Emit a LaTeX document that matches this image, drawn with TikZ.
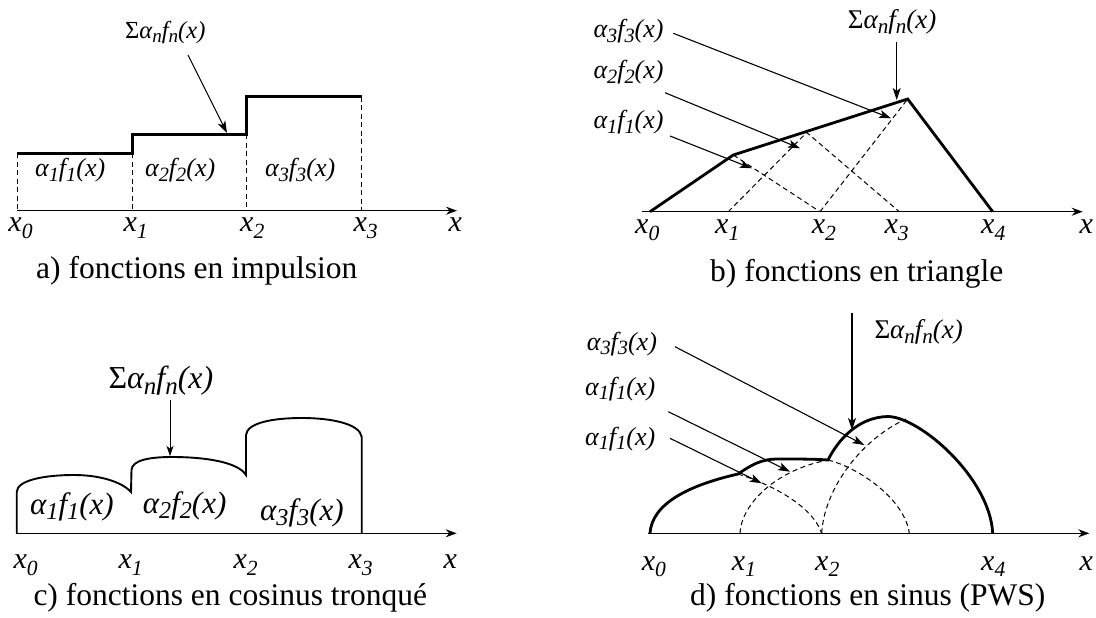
\documentclass[tikz,border=0pt]{standalone}
\usepackage{fontspec}
\setmainfont{Liberation Serif}
\usetikzlibrary{arrows.meta}
\newcommand\lo[1]{\raisebox{-0.4ex}{\scalebox{0.78}{#1}}}
\newcommand\af[1]{\textit{α\lo{#1}f\lo{#1}(x)}}
\newcommand\smlab{Σ\textit{α\lo{n}f\lo{n}(x)}}
\newcommand\xs[1]{\textit{x\raisebox{-0.5ex}{\scalebox{0.72}{#1}}}}
\begin{document}
\begin{tikzpicture}[x=1pt,y=-1pt,
  axisline/.style={line width=1.4pt,-{Stealth[length=11pt,width=8pt]}},
  sumline/.style={line width=2.8pt},
  sumthin/.style={line width=1.9pt},
  basisdash/.style={line width=1pt,dash pattern=on 5pt off 3.5pt},
  pointer/.style={line width=1.1pt,-{Stealth[length=12pt,width=8pt,inset=3pt]}},
  pointersm/.style={line width=0.9pt,-{Stealth[length=10pt,width=7pt,inset=2.5pt]}},
  lbl/.style={font=\fontsize{#1}{#1}\selectfont,anchor=base west,inner sep=0pt},
  tick/.style={font=\fontsize{30}{30}\selectfont,anchor=base west,inner sep=0pt},
  captxt/.style={font=\fontsize{31.5}{34}\selectfont,anchor=base west,inner sep=0pt}]
\useasboundingbox (0,0) rectangle (1096,618);

%================ a) impulsion
\coordinate (a0) at (17.3,210.7);
\coordinate (aend) at (457,210.7);
\draw[axisline] (a0) -- (aend);
\draw[sumline] (17.3,153.3) -- (132.3,153.3) -- (132.3,134.3) -- (246.7,134.3) -- (246.7,96.7) -- (361.7,96.7);
\draw[basisdash] (17.3,153.3) -- (17.3,210.7);
\draw[basisdash] (132.3,153.3) -- (132.3,210.7);
\draw[basisdash] (246.7,134.3) -- (246.7,210.7);
\draw[basisdash] (361.7,96.7) -- (361.7,210.7);
\node[lbl=26] (aL1) at (35,176.7) {\af{1}};
\node[lbl=26] (aL2) at (145,176.7) {\af{2}};
\node[lbl=26] (aL3) at (265,176.7) {\af{3}};
\node[lbl=24.5] (aS) at (125,38.3) {\smlab};
\coordinate (aSs) at (188,55);
\coordinate (aSt) at (227,133);
\draw[pointer] (aSs) -- (aSt);
\node[tick] (ax0) at (8.3,231.7) {\xs{0}};
\node[tick] (ax1) at (123.3,231.7) {\xs{1}};
\node[tick] (ax2) at (240,231.7) {\xs{2}};
\node[tick] (ax3) at (353.3,231.7) {\xs{3}};
\node[tick] (axx) at (448.3,231.7) {\textit{x}};
\node[captxt] (acap) at (36,278.3) {a) fonctions en impulsion};

%================ b) triangle
\coordinate (b0) at (641.7,211.7);
\coordinate (bend) at (1082.7,211.7);
\draw[axisline] (b0) -- (bend);
\coordinate (bx0) at (650,211.7);
\coordinate (bx1) at (728.3,211.7);
\coordinate (bx2) at (820,211.7);
\coordinate (bx3) at (899.3,211.7);
\coordinate (bx4) at (992.7,211.7);
\coordinate (bK1) at (733.3,155);
\coordinate (bP2) at (806.7,132.5);
\coordinate (bP3) at (907.7,99);
\draw[basisdash] (bK1) -- (bx2);
\draw[basisdash] (bx1) -- (bP2) -- (bx3);
\draw[basisdash] (bx2) -- (bP3);
\draw[sumline,line join=miter] (bx0) -- (bK1) -- (bP3) -- (bx4);
\node[lbl=26] (bL3) at (593.3,37.3) {\af{3}};
\node[lbl=26] (bL2) at (593.3,78.3) {\af{2}};
\node[lbl=26] (bL1) at (593.3,128.3) {\af{1}};
\node[lbl=27] (bS) at (847.7,28.3) {\smlab};
\coordinate (bA3s) at (673.3,33.3);
\coordinate (bA3t) at (891,118.3);
\coordinate (bA2s) at (665,92.7);
\coordinate (bA2t) at (800,148.3);
\coordinate (bA1s) at (670,136);
\coordinate (bA1t) at (751.7,168.3);
\coordinate (bSs) at (896.7,41.7);
\coordinate (bSt) at (896.7,100);
\draw[pointer] (bA3s) -- (bA3t);
\draw[pointer] (bA2s) -- (bA2t);
\draw[pointer] (bA1s) -- (bA1t);
\draw[pointer] (bSs) -- (bSt);
\node[tick] (btx0) at (635,233.3) {\xs{0}};
\node[tick] (btx1) at (715,233.3) {\xs{1}};
\node[tick] (btx2) at (811.7,233.3) {\xs{2}};
\node[tick] (btx3) at (884.3,233.3) {\xs{3}};
\node[tick] (btx4) at (981,233.3) {\xs{4}};
\node[tick] (btxx) at (1079.3,233.3) {\textit{x}};
\node[captxt] (bcap) at (710,281.7) {b) fonctions en triangle};

%================ c) cosinus tronque
\coordinate (c0) at (16,533.3);
\coordinate (cend) at (456.7,533.3);
\draw[axisline] (c0) -- (cend);
\draw[sumthin,line join=miter]
  (16.7,533.3) -- (16.7,492)
  .. controls (17,480) and (45,475) .. (74,475)
  .. controls (100,475) and (122,482) .. (131,492)
  -- (131.5,470)
  .. controls (132,460) and (150,457) .. (172,457)
  .. controls (205,457) and (238,462) .. (246,475)
  -- (246,435)
  .. controls (247,423) and (272,418) .. (302,418)
  .. controls (332,418) and (360,424) .. (361.7,437)
  -- (361.7,533.3);
\node[lbl=31] (cL1) at (30,514.3) {\af{1}};
\node[lbl=31] (cL2) at (142.7,513.3) {\af{2}};
\node[lbl=31] (cL3) at (260,520) {\af{3}};
\node[lbl=32] (cS) at (108.3,388.3) {\smlab};
\coordinate (cSs) at (170,400);
\coordinate (cSt) at (170,456);
\draw[pointersm] (cSs) -- (cSt);
\node[tick] (ctx0) at (13.3,568.3) {\xs{0}};
\node[tick] (ctx1) at (118.3,568.3) {\xs{1}};
\node[tick] (ctx2) at (233.3,568.3) {\xs{2}};
\node[tick] (ctx3) at (348.3,568.3) {\xs{3}};
\node[tick] (ctxx) at (443.3,568.3) {\textit{x}};
\node[captxt] (ccap) at (33.3,605) {c) fonctions en cosinus tronqué};

%================ d) sinus PWS
\coordinate (d0) at (648,533.3);
\coordinate (dend) at (1089.3,533.3);
\draw[axisline] (d0) -- (dend);
\coordinate (dx0) at (650,533.3);
\coordinate (dx1) at (740,533.3);
\coordinate (dx2) at (821.7,533.3);
\coordinate (dx3) at (909.3,533.3);
\coordinate (dx4) at (992.7,533.3);
\coordinate (dK1) at (738,474);
\coordinate (dK2) at (828,460);
\coordinate (dPk) at (888,416.5);
\draw[basisdash] (dK1) .. controls (770,484) and (812,505) .. (dx2);
\draw[basisdash] (dx1) .. controls (741,505) and (775,470) .. (dK2);
\draw[basisdash] (dK2) .. controls (860,468) and (905,500) .. (dx3);
\draw[basisdash] (dx2) .. controls (824,490) and (860,440) .. (906,419);
\draw[sumline]
  (dx0) .. controls (652,503) and (690,485) .. (dK1)
  .. controls (750,466) and (760,459) .. (778,459)
  .. controls (797,459) and (815,459) .. (dK2)
  .. controls (838,440) and (858,417) .. (dPk)
  .. controls (920,417) and (990,478) .. (dx4);
\node[lbl=26] (dL3) at (586.7,350) {\af{3}};
\node[lbl=26] (dL2) at (585,395) {\af{1}};
\node[lbl=26] (dL1) at (585,445) {\af{1}};
\node[lbl=27] (dS) at (874.3,338.3) {\smlab};
\coordinate (dA3s) at (675,346.7);
\coordinate (dA3t) at (864.3,445);
\coordinate (dA2s) at (668.3,411.7);
\coordinate (dA2t) at (790,471.7);
\coordinate (dA1s) at (670,438.3);
\coordinate (dA1t) at (761.7,483.3);
\coordinate (dSs) at (852,313);
\coordinate (dSt) at (852,430);
\draw[pointer] (dA3s) -- (dA3t);
\draw[pointer] (dA2s) -- (dA2t);
\draw[pointer] (dA1s) -- (dA1t);
\draw[pointer] (dSs) -- (dSt);
\node[tick] (dtx0) at (641.7,570) {\xs{0}};
\node[tick] (dtx1) at (731.7,570) {\xs{1}};
\node[tick] (dtx2) at (815,570) {\xs{2}};
\node[tick] (dtx4) at (981,570) {\xs{4}};
\node[tick] (dtxx) at (1079.3,570) {\textit{x}};
\node[captxt] (dcap) at (690,605) {d) fonctions en sinus (PWS)};
\end{tikzpicture}
\end{document}
